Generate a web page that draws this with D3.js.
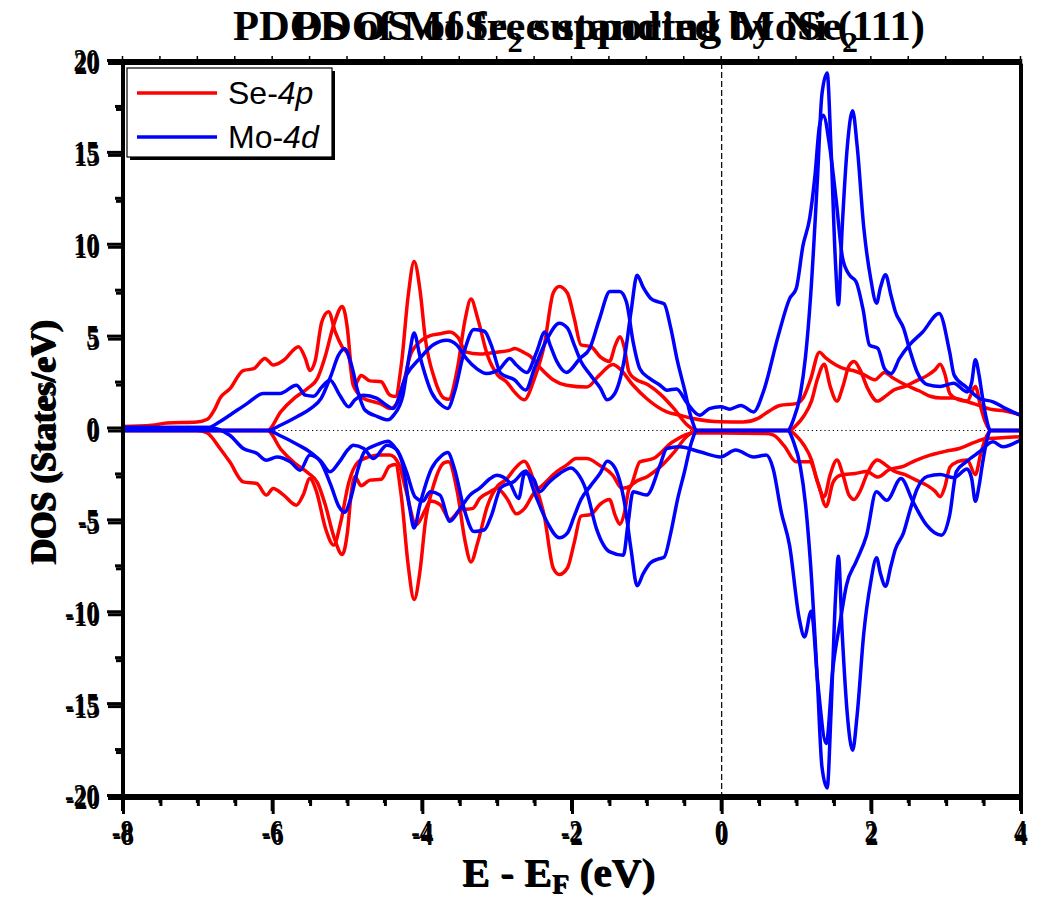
<!DOCTYPE html>
<html>
<head>
<meta charset="utf-8">
<script src="https://cdn.jsdelivr.net/npm/d3@7"></script>
<style>
  html, body { margin: 0; padding: 0; background: #fff; }
  svg { display: block; }
  .serif { font-family: "Liberation Serif", "Times New Roman", serif; font-weight: bold; fill: #000; }
  .sans { font-family: "Liberation Sans", Arial, sans-serif; fill: #000; }
</style>
</head>
<body>
<svg id="chart" width="1037" height="901"></svg>
<script>
// ---------- tick values ----------
const xMajorTicks = [-8, -6, -4, -2, 0, 2, 4];
const xMinorTicks = [-7.5, -7, -6.5, -5.5, -5, -4.5, -3.5, -3, -2.5, -1.5, -1, -0.5, 0.5, 1, 1.5, 2.5, 3, 3.5];
const yMajorTicks = [-20, -15, -10, -5, 0, 5, 10, 15, 20];
const yMinorTicks = [-17.5, -12.5, -7.5, -2.5, 2.5, 7.5, 12.5, 17.5];

// ---------- free-standing MoSe2: [E - EF (eV), DOS] ----------
const fsSeUp = [[-8,0],[-6.07,0],[-5.89,1.03],[-5.71,1.76],[-5.53,2.3],[-5.4,2.85],[-5.3,4.0],[-5.18,5.8],[-5.07,6.75],[-5.0,5.5],[-4.95,3.4],[-4.9,2.5],[-4.82,3.0],[-4.7,2.7],[-4.55,2.65],[-4.44,1.95],[-4.36,1.85],[-4.28,3.6],[-4.19,7.3],[-4.11,9.2],[-4.03,7.6],[-3.96,5.0],[-3.84,2.85],[-3.71,1.76],[-3.65,1.7],[-3.53,3.4],[-3.43,6.0],[-3.35,7.15],[-3.26,6.1],[-3.13,4.1],[-2.99,3.0],[-2.88,2.67],[-2.77,2.1],[-2.64,1.67],[-2.5,2.85],[-2.37,4.66],[-2.25,7.5],[-2.17,7.84],[-2.06,7.47],[-1.97,6.1],[-1.88,4.66],[-1.75,4.57],[-1.62,4.0],[-1.5,3.76],[-1.42,4.66],[-1.36,5.1],[-1.3,4.5],[-1.24,3.2],[-1.17,2.85],[-0.99,2.5],[-0.81,1.94],[-0.64,1.2],[-0.46,0.3],[-0.33,0],[0.9,0],[1.0,0.3],[1.1,0.8],[1.2,1.6],[1.28,2.8],[1.37,3.6],[1.45,2.4],[1.54,1.6],[1.62,2.4],[1.7,3.5],[1.77,3.75],[1.85,3.3],[1.95,2.3],[2.08,1.6],[2.2,1.9],[2.3,2.2],[2.45,2.4],[2.6,2.7],[2.75,3.0],[2.85,3.3],[2.92,3.6],[2.98,3.1],[3.05,2.0],[3.15,1.7],[3.28,1.6],[3.39,2.4],[3.46,1.3],[3.52,0.5],[3.6,0],[4,0]];
const fsSeDown = [[-8,0],[-6.07,0],[-5.89,-1.03],[-5.71,-1.76],[-5.53,-2.3],[-5.4,-2.85],[-5.3,-4.0],[-5.18,-5.8],[-5.07,-6.75],[-5.0,-5.5],[-4.95,-3.4],[-4.9,-2.5],[-4.82,-3.0],[-4.7,-2.7],[-4.55,-2.65],[-4.44,-1.95],[-4.36,-1.85],[-4.28,-3.6],[-4.19,-7.3],[-4.11,-9.2],[-4.03,-7.6],[-3.96,-5.0],[-3.84,-2.85],[-3.71,-1.76],[-3.65,-1.7],[-3.53,-3.4],[-3.43,-6.0],[-3.35,-7.15],[-3.26,-6.1],[-3.13,-4.1],[-2.99,-3.0],[-2.88,-2.67],[-2.77,-2.1],[-2.64,-1.67],[-2.5,-2.85],[-2.37,-4.66],[-2.25,-7.5],[-2.17,-7.84],[-2.06,-7.47],[-1.97,-6.1],[-1.88,-4.66],[-1.75,-4.57],[-1.62,-4.0],[-1.5,-3.76],[-1.42,-4.66],[-1.36,-5.1],[-1.3,-4.5],[-1.24,-3.2],[-1.17,-2.85],[-0.99,-2.5],[-0.81,-1.94],[-0.64,-1.2],[-0.46,-0.3],[-0.33,0],[0.9,0],[1.0,-0.3],[1.1,-0.8],[1.2,-1.6],[1.28,-2.8],[1.37,-3.6],[1.45,-2.4],[1.54,-1.6],[1.62,-2.4],[1.7,-3.5],[1.77,-3.75],[1.85,-3.3],[1.95,-2.3],[2.08,-1.6],[2.2,-1.9],[2.3,-2.2],[2.45,-2.4],[2.6,-2.7],[2.75,-3.0],[2.85,-3.3],[2.92,-3.6],[2.98,-3.1],[3.05,-2.0],[3.15,-1.7],[3.28,-1.6],[3.39,-2.4],[3.46,-1.3],[3.52,-0.5],[3.6,0],[4,0]];
const fsMoUp = [[-8,0],[-6.07,0],[-5.89,0.3],[-5.67,0.76],[-5.49,1.2],[-5.35,1.76],[-5.22,3.0],[-5.12,4.1],[-5.04,4.45],[-4.95,3.6],[-4.86,2.1],[-4.77,1.13],[-4.6,0.76],[-4.46,0.58],[-4.38,0.85],[-4.26,1.9],[-4.17,4.2],[-4.11,5.3],[-4.03,4.0],[-3.88,2.1],[-3.75,1.4],[-3.66,1.2],[-3.57,2.1],[-3.44,4.3],[-3.31,5.5],[-3.17,5.4],[-3.08,4.66],[-2.95,3.1],[-2.77,2.76],[-2.62,2.2],[-2.5,3.4],[-2.33,5.0],[-2.17,5.84],[-2.06,5.57],[-1.97,4.66],[-1.88,3.76],[-1.75,3.0],[-1.62,2.3],[-1.53,1.67],[-1.44,1.94],[-1.3,3.9],[-1.21,6.5],[-1.13,8.45],[-1.05,7.8],[-0.95,7.2],[-0.85,7.0],[-0.77,6.9],[-0.68,5.57],[-0.59,3.76],[-0.5,2.3],[-0.4,0.6],[-0.33,0],[0.88,0],[0.96,0.6],[1.05,1.94],[1.12,4.0],[1.19,7.4],[1.28,13.7],[1.34,18.3],[1.41,19.45],[1.46,15.5],[1.52,9.2],[1.56,6.84],[1.61,11.0],[1.68,15.5],[1.75,17.4],[1.81,15.5],[1.9,11.0],[1.99,8.3],[2.07,6.93],[2.12,7.75],[2.19,8.48],[2.26,7.4],[2.32,6.48],[2.43,5.57],[2.52,4.3],[2.61,3.2],[2.75,2.5],[2.92,2.4],[3.1,2.57],[3.28,2.1],[3.34,2.6],[3.39,3.85],[3.44,3.0],[3.48,1.94],[3.54,0.6],[3.59,0],[4,0]];
const fsMoDown = [[-8,0],[-6.07,0],[-5.89,-0.3],[-5.67,-0.76],[-5.49,-1.2],[-5.35,-1.76],[-5.22,-3.0],[-5.12,-4.1],[-5.04,-4.45],[-4.95,-3.6],[-4.86,-2.1],[-4.77,-1.13],[-4.6,-0.76],[-4.46,-0.58],[-4.38,-0.85],[-4.26,-1.9],[-4.17,-4.2],[-4.11,-5.3],[-4.03,-4.0],[-3.88,-2.1],[-3.75,-1.4],[-3.66,-1.2],[-3.57,-2.1],[-3.44,-4.3],[-3.31,-5.5],[-3.17,-5.4],[-3.08,-4.66],[-2.95,-3.1],[-2.77,-2.76],[-2.62,-2.2],[-2.5,-3.4],[-2.33,-5.0],[-2.17,-5.84],[-2.06,-5.57],[-1.97,-4.66],[-1.88,-3.76],[-1.75,-3.0],[-1.62,-2.3],[-1.53,-1.67],[-1.44,-1.94],[-1.3,-3.9],[-1.21,-6.5],[-1.13,-8.45],[-1.05,-7.8],[-0.95,-7.2],[-0.85,-7.0],[-0.77,-6.9],[-0.68,-5.57],[-0.59,-3.76],[-0.5,-2.3],[-0.4,-0.6],[-0.33,0],[0.88,0],[0.96,-0.6],[1.05,-1.94],[1.12,-4.0],[1.19,-7.4],[1.28,-13.7],[1.34,-18.3],[1.41,-19.45],[1.46,-15.5],[1.52,-9.2],[1.56,-6.84],[1.61,-11.0],[1.68,-15.5],[1.75,-17.4],[1.81,-15.5],[1.9,-11.0],[1.99,-8.3],[2.07,-6.93],[2.12,-7.75],[2.19,-8.48],[2.26,-7.4],[2.32,-6.48],[2.43,-5.57],[2.52,-4.3],[2.61,-3.2],[2.75,-2.5],[2.92,-2.4],[3.1,-2.57],[3.28,-2.1],[3.34,-2.6],[3.39,-3.85],[3.44,-3.0],[3.48,-1.94],[3.54,-0.6],[3.59,0],[4,0]];

// ---------- MoSe2 on Ni(111): [E - EF (eV), DOS] ----------
const niSeUp = [[-8,0.05],[-7.6,0.12],[-7.4,0.25],[-7.0,0.3],[-6.86,0.45],[-6.76,1.0],[-6.69,1.6],[-6.56,2.1],[-6.38,3.1],[-6.24,3.2],[-6.09,3.76],[-5.98,3.4],[-5.84,3.66],[-5.64,4.4],[-5.55,3.76],[-5.49,3.1],[-5.42,3.6],[-5.33,5.75],[-5.24,6.3],[-5.15,5.2],[-5.06,4.4],[-4.97,3.9],[-4.91,2.3],[-4.77,1.58],[-4.64,1.4],[-4.55,1.3],[-4.42,1.03],[-4.33,1.3],[-4.24,2.4],[-4.15,3.9],[-4.02,4.66],[-3.88,5.0],[-3.75,5.1],[-3.62,5.2],[-3.51,4.9],[-3.4,4.1],[-3.22,4.0],[-2.99,4.1],[-2.82,4.2],[-2.75,4.3],[-2.64,4.1],[-2.55,3.9],[-2.4,3.2],[-2.24,2.6],[-2.06,2.3],[-1.79,2.2],[-1.62,2.85],[-1.44,3.43],[-1.35,3.2],[-1.17,2.3],[-0.99,1.58],[-0.72,0.85],[-0.55,0.67],[-0.37,0.49],[0,0.31],[0.3,0.3],[0.5,0.5],[0.65,0.9],[0.79,1.2],[1.01,1.3],[1.1,1.6],[1.2,2.6],[1.32,4.1],[1.4,3.8],[1.54,3.4],[1.65,3.2],[1.77,3.1],[1.9,2.9],[2.06,2.6],[2.19,3.0],[2.3,2.7],[2.48,2.3],[2.65,2.0],[2.8,1.7],[2.95,1.6],[3.1,1.6],[3.3,1.4],[3.45,1.2],[3.6,1.0],[3.8,0.9],[4,0.7]];
const niSeDown = [[-8,-0.05],[-7.5,-0.12],[-7.0,-0.15],[-6.86,-0.3],[-6.69,-1.14],[-6.56,-1.87],[-6.38,-2.96],[-6.2,-3.05],[-6.07,-3.68],[-5.98,-3.32],[-5.84,-3.68],[-5.67,-4.23],[-5.58,-3.68],[-5.49,-2.78],[-5.4,-3.5],[-5.28,-5.5],[-5.17,-6.4],[-5.08,-5.2],[-4.97,-3.0],[-4.85,-1.9],[-4.7,-1.6],[-4.55,-1.5],[-4.42,-1.5],[-4.3,-2.0],[-4.2,-3.5],[-4.07,-5.3],[-3.95,-4.5],[-3.88,-4.0],[-3.75,-4.2],[-3.62,-5.0],[-3.48,-4.5],[-3.31,-4.4],[-3.22,-3.86],[-3.08,-3.5],[-2.99,-3.3],[-2.85,-3.9],[-2.73,-4.7],[-2.62,-4.4],[-2.5,-3.6],[-2.37,-3.1],[-2.19,-2.4],[-2.06,-2.05],[-1.93,-1.69],[-1.79,-1.69],[-1.62,-2.05],[-1.44,-2.6],[-1.32,-3.3],[-1.21,-3.2],[-1.08,-1.87],[-0.9,-1.69],[-0.64,-0.78],[-0.37,-0.3],[0,-0.3],[0.6,-0.33],[0.7,-0.4],[0.85,-1.0],[1.01,-1.87],[1.19,-1.87],[1.3,-3.0],[1.41,-4.3],[1.5,-3.0],[1.6,-2.6],[1.8,-2.5],[1.95,-2.4],[2.1,-2.7],[2.25,-2.3],[2.45,-2.1],[2.6,-1.8],[2.8,-1.5],[3.0,-1.3],[3.19,-1.14],[3.4,-0.8],[3.55,-0.6],[3.8,-0.55],[4,-0.5]];
const niMoUp = [[-8,0],[-6.85,0],[-6.7,0.3],[-6.56,0.67],[-6.33,1.3],[-6.11,1.85],[-5.89,1.85],[-5.67,2.3],[-5.55,1.76],[-5.44,1.7],[-5.33,2.2],[-5.22,2.57],[-5.09,1.76],[-4.97,1.13],[-4.89,1.5],[-4.77,1.76],[-4.6,1.6],[-4.46,1.2],[-4.38,1.03],[-4.2,2.85],[-4.02,3.76],[-3.84,4.5],[-3.66,4.75],[-3.53,4.5],[-3.4,3.76],[-3.26,3.2],[-3.13,2.94],[-2.95,3.2],[-2.82,3.76],[-2.73,3.4],[-2.59,3.0],[-2.46,4.1],[-2.35,5.2],[-2.28,4.5],[-2.19,3.6],[-2.06,3.0],[-1.88,3.76],[-1.75,4.3],[-1.62,5.9],[-1.48,7.4],[-1.35,7.4],[-1.26,6.84],[-1.17,4.66],[-1.08,3.2],[-0.95,2.67],[-0.81,2.3],[-0.72,2.03],[-0.59,2.1],[-0.46,1.4],[-0.28,0.67],[-0.15,1.03],[0,1.13],[0.12,1.0],[0.27,1.2],[0.44,0.85],[0.57,1.94],[0.77,5.0],[0.92,7.0],[1.01,7.57],[1.1,9.9],[1.19,11.4],[1.26,13.7],[1.32,16.4],[1.37,17.0],[1.46,15.2],[1.54,12.5],[1.63,9.2],[1.72,8.3],[1.81,7.93],[1.9,6.48],[1.99,4.48],[2.1,4.3],[2.19,3.2],[2.28,2.94],[2.39,3.76],[2.52,4.48],[2.7,5.2],[2.92,6.2],[3.06,4.1],[3.12,2.85],[3.28,2.2],[3.46,1.58],[3.64,1.4],[3.81,1.03],[4,0.67]];
const niMoDown = [[-8,0],[-6.85,0],[-6.56,-0.42],[-6.38,-1.14],[-6.2,-1.4],[-6.07,-1.78],[-5.93,-1.6],[-5.75,-1.87],[-5.62,-2.32],[-5.49,-1.5],[-5.35,-1.8],[-5.22,-2.41],[-5.1,-1.9],[-4.98,-1.2],[-4.91,-0.96],[-4.77,-1.14],[-4.64,-1.69],[-4.46,-0.96],[-4.33,-1.2],[-4.2,-2.4],[-4.08,-3.8],[-3.98,-4.0],[-3.88,-3.5],[-3.75,-3.68],[-3.62,-5.1],[-3.48,-4.4],[-3.35,-3.68],[-3.22,-3.3],[-3.08,-2.78],[-2.99,-2.6],[-2.82,-3.0],[-2.7,-3.86],[-2.62,-2.5],[-2.5,-2.8],[-2.42,-3.5],[-2.3,-3.0],[-2.15,-2.5],[-2.0,-2.2],[-1.93,-2.4],[-1.79,-3.5],[-1.66,-5.5],[-1.48,-6.77],[-1.3,-6.95],[-1.24,-5.3],[-1.17,-3.5],[-0.99,-3.68],[-0.81,-2.05],[-0.72,-1.14],[-0.55,-1.05],[-0.28,-1.32],[0,-1.6],[0.2,-1.23],[0.44,-1.6],[0.61,-1.5],[0.7,-2.23],[0.81,-4.6],[0.92,-6.4],[1.05,-10.4],[1.12,-11.4],[1.21,-10.0],[1.3,-14.0],[1.41,-17.2],[1.5,-13.1],[1.6,-10.5],[1.68,-8.6],[1.81,-7.3],[1.95,-5.86],[2.08,-3.5],[2.22,-3.96],[2.41,-2.78],[2.57,-4.04],[2.75,-5.3],[2.95,-5.86],[3.06,-4.77],[3.15,-2.4],[3.28,-1.87],[3.46,-1.32],[3.64,-0.78],[3.77,-1.05],[4,-0.69]];

const titleNi = "PDOS of MoSe";
const titleFs = "PDOS of free standing MoSe";
const legendItems = [
  { base: "Se-", orb: "4p", color: "#ff0000" },
  { base: "Mo-", orb: "4d", color: "#0000ff" }
];

// ---------- layout ----------
const svg = d3.select("#chart");
svg.append("rect").attr("width", 1037).attr("height", 901).attr("fill", "#fff");

// two overlaid panels with a small offset
const panels = [
  { name: "ni", dx: 0, dy: 0 },
  { name: "fs", dx: 1, dy: 3 }
];
const scales = {};
panels.forEach(p => {
  scales[p.name] = {
    x: d3.scaleLinear().domain([-8, 4]).range([122 + p.dx, 1020 + p.dx]),
    y: d3.scaleLinear().domain([-20, 20]).range([795 + p.dy, 60 + p.dy])
  };
});

svg.append("defs").append("clipPath").attr("id", "plotclip")
  .append("rect").attr("x", 122).attr("y", 60).attr("width", 900).attr("height", 738);

const plot = svg.append("g").attr("clip-path", "url(#plotclip)");

// reference lines (FS panel)
{
  const { x, y } = scales.fs;
  plot.append("line")
    .attr("x1", x(-8)).attr("x2", x(4)).attr("y1", y(0)).attr("y2", y(0))
    .attr("stroke", "#000").attr("stroke-width", 1.2).attr("stroke-dasharray", "1.2,3");
  plot.append("line")
    .attr("x1", x(0)).attr("x2", x(0)).attr("y1", y(20)).attr("y2", y(-20))
    .attr("stroke", "#000").attr("stroke-width", 1.2).attr("stroke-dasharray", "6,3");
}

function drawCurve(data, panel, color) {
  const { x, y } = scales[panel];
  const gen = d3.line().x(d => x(d[0])).y(d => y(d[1])).curve(d3.curveMonotoneX);
  plot.append("path").datum(data)
    .attr("d", gen).attr("fill", "none").attr("stroke", color)
    .attr("stroke-width", 3.5).attr("stroke-linejoin", "round").attr("stroke-linecap", "round");
}

drawCurve(niSeUp, "ni", "#ff0000");
drawCurve(niSeDown, "ni", "#ff0000");
drawCurve(fsSeUp, "fs", "#ff0000");
drawCurve(fsSeDown, "fs", "#ff0000");
drawCurve(niMoUp, "ni", "#0000ff");
drawCurve(niMoDown, "ni", "#0000ff");
drawCurve(fsMoUp, "fs", "#0000ff");
drawCurve(fsMoDown, "fs", "#0000ff");

// ---------- axes ----------
const SX = 0.8; // horizontal squeeze of tick labels
function styleAxis(g) {
  g.select(".domain").attr("stroke-width", 3);
  g.selectAll(".tick line").attr("stroke-width", 3);
}

panels.forEach(p => {
  const { x, y } = scales[p.name];
  const ax = svg.append("g");

  // left
  const left = ax.append("g").attr("transform", `translate(${x(-8)},0)`)
    .call(d3.axisLeft(y).tickValues(yMajorTicks).tickSize(15).tickSizeOuter(0).tickPadding(8)
      .tickFormat(d => String(d)));
  styleAxis(left);
  left.selectAll("text").attr("class", "serif").attr("font-size", 32)
    .attr("x", null).attr("dy", "0.34em")
    .attr("transform", `translate(-23,0) scale(${SX},1)`).attr("text-anchor", "end");
  const leftMinor = ax.append("g").attr("transform", `translate(${x(-8)},0)`)
    .call(d3.axisLeft(y).tickValues(yMinorTicks).tickSize(7).tickSizeOuter(0).tickFormat(""));
  styleAxis(leftMinor);

  // bottom
  const bottom = ax.append("g").attr("transform", `translate(0,${y(-20)})`)
    .call(d3.axisBottom(x).tickValues(xMajorTicks).tickSize(16).tickSizeOuter(0).tickPadding(8)
      .tickFormat(d => String(d)));
  styleAxis(bottom);
  bottom.selectAll("text").attr("class", "serif").attr("font-size", 32)
    .attr("y", null).attr("dy", null)
    .attr("transform", `translate(0,47) scale(${SX},1)`).attr("text-anchor", "middle");
  const bottomMinor = ax.append("g").attr("transform", `translate(0,${y(-20)})`)
    .call(d3.axisBottom(x).tickValues(xMinorTicks).tickSize(8).tickSizeOuter(0).tickFormat(""));
  styleAxis(bottomMinor);

  // top
  const top = ax.append("g").attr("transform", `translate(0,${y(20)})`)
    .call(d3.axisTop(x).tickValues(xMajorTicks.concat(xMinorTicks)).tickSize(4).tickSizeOuter(0).tickFormat(""));
  styleAxis(top);
  top.selectAll(".tick line").attr("stroke-width", 1.5);

  // right
  const right = ax.append("g").attr("transform", `translate(${x(4)},0)`)
    .call(d3.axisRight(y).tickValues([]).tickSizeOuter(0));
  styleAxis(right);
});

// ---------- titles ----------
const titleG = svg.append("g").attr("class", "serif");
function title(text, sub, tail, xStart, width) {
  const t = titleG.append("text").attr("x", xStart).attr("y", 40).attr("font-size", 42)
    .attr("textLength", width).attr("lengthAdjust", "spacingAndGlyphs");
  t.append("tspan").text(text);
  t.append("tspan").attr("font-size", 30).attr("dy", 12).text(sub);
  if (tail) t.append("tspan").attr("dy", -12).text(tail);
}
title(titleNi, "2", " supported by Ni (111)", 233, 692);
title(titleFs, "2", "", 292, 566);

// ---------- axis labels ----------
[0, 1].forEach(k => {
  svg.append("text").attr("class", "serif").attr("font-size", 35)
    .attr("text-anchor", "middle")
    .attr("transform", `translate(${55 + k},${441 + 2 * k}) rotate(-90)`)
    .text("DOS (States/eV)");
  const xl = svg.append("text").attr("class", "serif").attr("font-size", 40)
    .attr("x", 462 + k).attr("y", 886 + k)
    .attr("textLength", 193).attr("lengthAdjust", "spacingAndGlyphs");
  xl.append("tspan").text("E - E");
  xl.append("tspan").attr("font-size", 27).attr("dy", 7).text("F");
  xl.append("tspan").attr("dy", -7).text(" (eV)");
});

// ---------- legend ----------
const lg = svg.append("g");
lg.append("rect").attr("x", 130).attr("y", 71).attr("width", 205).attr("height", 89)
  .attr("fill", "#000");
lg.append("rect").attr("x", 127).attr("y", 68).attr("width", 205).attr("height", 89)
  .attr("fill", "#fff").attr("stroke", "#000").attr("stroke-width", 1.2);
legendItems.forEach((it, i) => {
  const cy = 93 + i * 44;
  lg.append("line").attr("x1", 137).attr("x2", 217).attr("y1", cy).attr("y2", cy)
    .attr("stroke", it.color).attr("stroke-width", 3.5);
  const t = lg.append("text").attr("class", "sans").attr("font-size", 32)
    .attr("x", 228).attr("y", cy + 11);
  t.append("tspan").text(it.base);
  t.append("tspan").attr("font-style", "italic").text(it.orb);
});
</script>
</body>
</html>
